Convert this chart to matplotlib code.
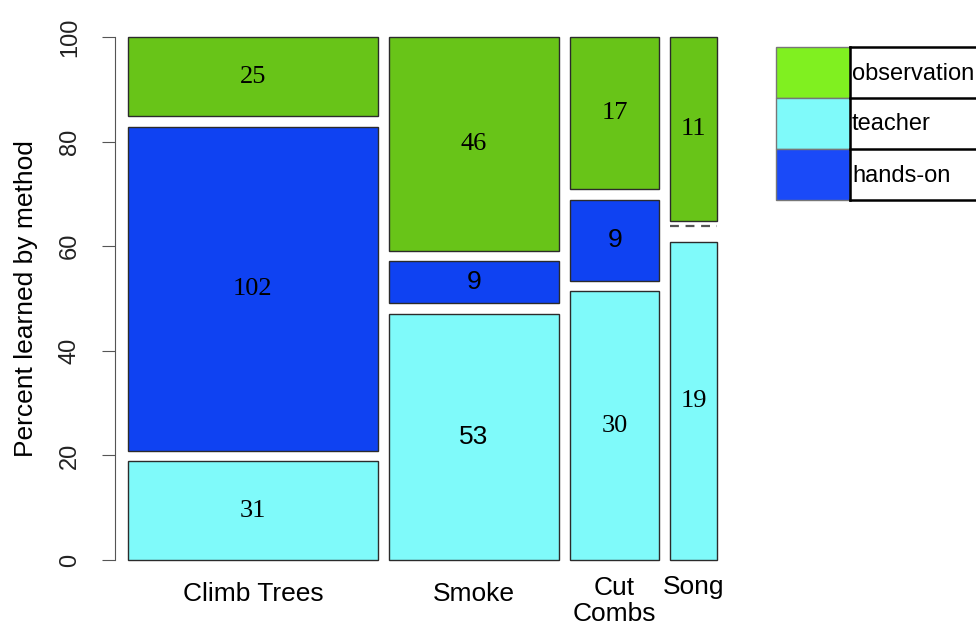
import matplotlib
matplotlib.use("Agg")
import matplotlib.pyplot as plt
from matplotlib.patches import Rectangle

# counts per activity, stacked bottom -> top: teacher, hands-on, observation
activities = ["Climb Trees", "Smoke", "Cut\nCombs", "Song"]
methods = ["teacher", "hands-on", "observation"]
teacher = [31, 53, 30, 19]
hands_on = [102, 9, 9, 0]
observation = [25, 46, 17, 11]

# font used for each cell label (the source mixes serif and sans)
label_serif = [
    [True, True, True],
    [False, False, True],
    [True, False, True],
    [True, True, True],
]

bar_colors = {"teacher": "#7ffafa", "hands-on": "#0f42f2", "observation": "#68c418"}
legend_colors = {"observation": "#80f020", "teacher": "#7ffafa", "hands-on": "#1a4af8"}

SANS = ["Liberation Sans", "DejaVu Sans"]
SERIF = ["Liberation Serif", "DejaVu Serif"]

fig = plt.figure(figsize=(9.76, 6.28), dpi=100)
ax = fig.add_axes([115 / 976, 1 - 560 / 628, (735 - 115) / 976, 523 / 628])

counts = list(zip(teacher, hands_on, observation))
totals = [sum(c) for c in counts]
grand = sum(totals)

xgap = 0.0186
vgap = 2.0
avail_x = 1 - xgap * (len(activities) - 1)
avail_y = 100 - vgap * (len(methods) - 1)

x0 = 0.0
centers = []
for i, col in enumerate(counts):
    w = avail_x * totals[i] / grand
    centers.append(x0 + w / 2)
    y0 = 0.0
    for j, n in enumerate(col):
        h = avail_y * n / totals[i]
        if n == 0:
            ax.plot([x0, x0 + w], [y0 + vgap / 2] * 2, color="#555555",
                    lw=1.6, ls=(0, (4, 3)), clip_on=False)
        else:
            ax.add_patch(Rectangle((x0, y0), w, h, facecolor=bar_colors[methods[j]],
                                   edgecolor="#2b2b2b", lw=1.0, clip_on=False))
            fam = SERIF if label_serif[i][j] else SANS
            ax.text(x0 + w / 2, y0 + h / 2, str(n), ha="center", va="center",
                    fontsize=19, family=fam, color="black")
        y0 += h + vgap
    x0 += w + xgap

ax.set_xlim(-0.022, 1.03)
ax.set_ylim(0, 100)
for s in ["top", "right", "bottom"]:
    ax.spines[s].set_visible(False)
ax.spines["left"].set_color("#555555")
ax.spines["left"].set_bounds(0, 100)
ax.set_yticks([0, 20, 40, 60, 80, 100])
ax.set_yticklabels(["0", "20", "40", "60", "80", "100"], rotation=90,
                   va="center", fontsize=17, family=SANS, color="#222222")
ax.tick_params(axis="y", length=9.5, color="#555555", pad=15)
ax.set_ylabel("Percent learned by method", fontsize=19, family=SANS, labelpad=15)
ax.set_xticks([])

# category names under the columns (two-line names sit a bit lower, Song a bit higher)
name_y = [-6.5, -6.5, -7.9, -5.2]
for cx, name, ny in zip(centers, activities, name_y):
    ax.text(cx, ny, name, ha="center", va="center", fontsize=19, family=SANS,
            linespacing=1.1, clip_on=False)

# legend drawn as a little table in figure pixels
lax = fig.add_axes([0, 0, 1, 1])
lax.set_xlim(0, 976)
lax.set_ylim(628, 0)
lax.axis("off")
rows = ["observation", "teacher", "hands-on"]
top = 47
rh = 51
for k, name in enumerate(rows):
    yt = top + k * rh
    lax.add_patch(Rectangle((776, yt), 74, rh, facecolor=legend_colors[name],
                            edgecolor="#777777", lw=1.0))
    lax.text(852, yt + rh / 2 + 1, name, ha="left", va="center", fontsize=17, family=SANS)
for k in range(len(rows) + 1):
    lax.plot([850, 976], [top + k * rh] * 2, color="black", lw=1.8)
lax.plot([850, 850], [top, top + len(rows) * rh], color="black", lw=1.8)

fig.savefig("out.png", dpi=100)
